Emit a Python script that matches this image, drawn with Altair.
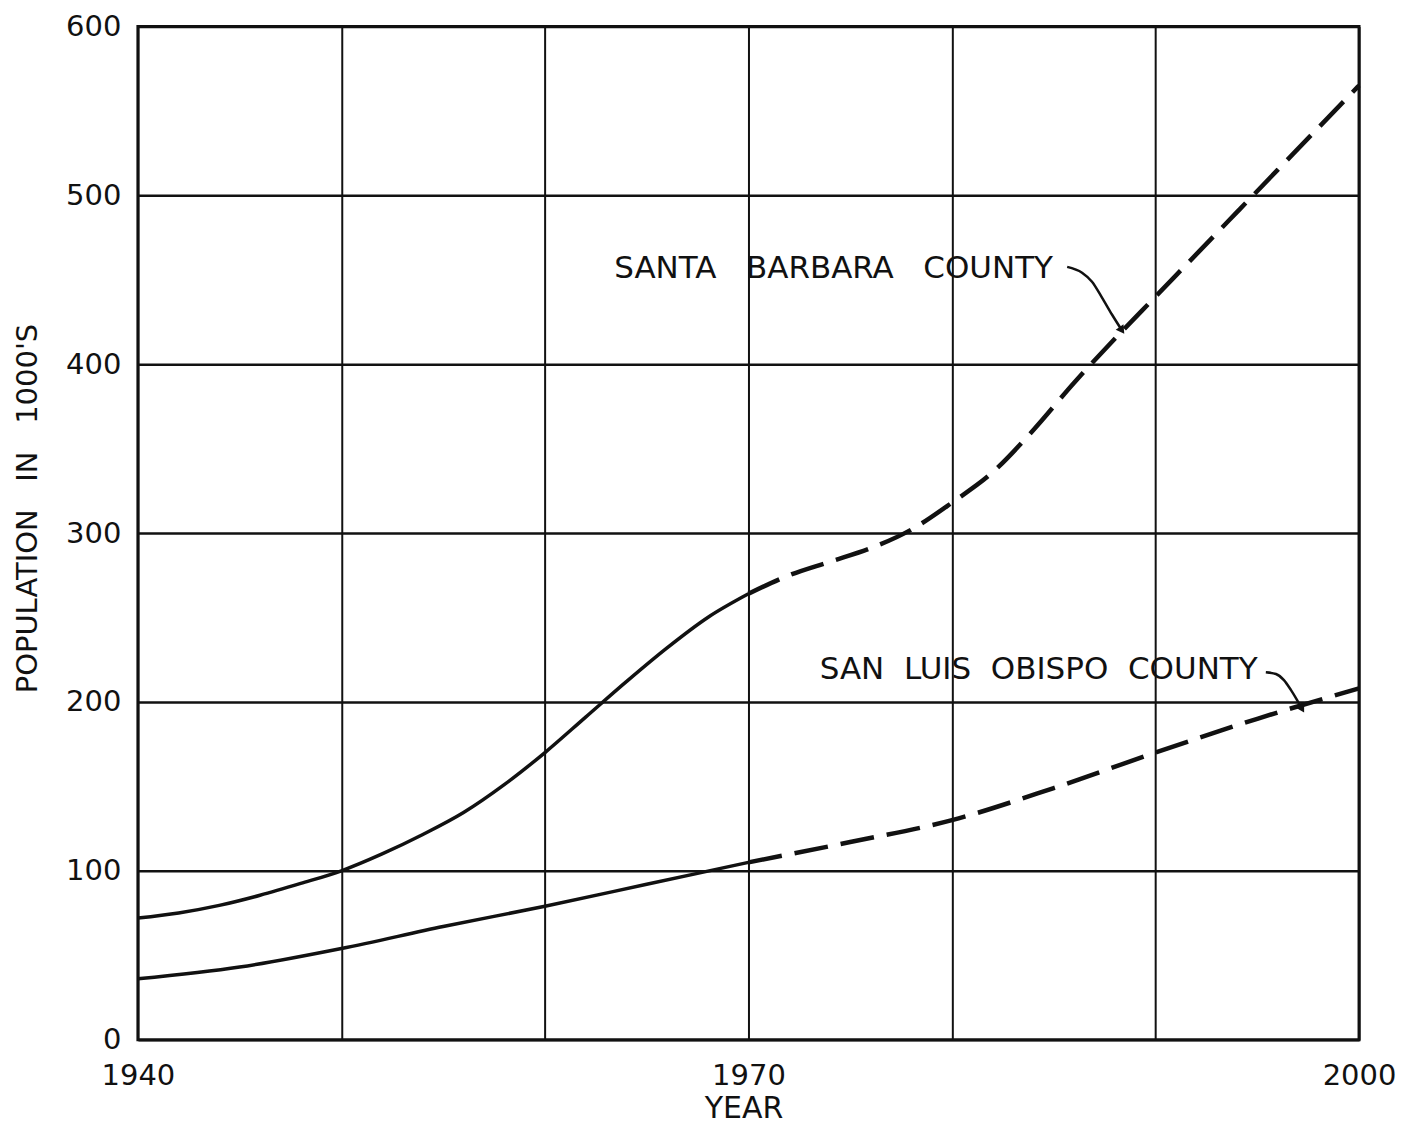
import altair as alt
import pandas as pd

# ---- data ----
SB_SOLID_YEARS = [1940, 1942, 1944, 1946, 1948, 1950, 1952, 1954, 1956, 1958, 1960, 1962, 1964, 1966, 1968, 1970]
SB_SOLID_VALS = [72, 75, 79.5, 85.5, 92.5, 100, 110, 121.5, 134.5, 151, 170, 191, 212, 232, 250, 264]
SB_DASH_YEARS = [1970, 1972, 1974, 1976, 1978, 1980, 1982, 1984, 1986, 1988, 1990, 1992, 1994, 1996, 1998, 2000]
SB_DASH_VALS = [264, 275, 283, 291, 302, 318, 336, 361, 389, 415, 440, 465, 490, 515, 540, 565]

SLO_SOLID_YEARS = [1940, 1945, 1950, 1955, 1960, 1965, 1970]
SLO_SOLID_VALS = [36, 43, 54, 67, 79, 92, 105]
SLO_DASH_YEARS = [1970, 1975, 1980, 1985, 1990, 1995, 2000]
SLO_DASH_VALS = [105, 117, 130, 149, 170, 190, 208]

X_TICKS = [1940, 1950, 1960, 1970, 1980, 1990, 2000]
X_LABELED = [1940, 1970, 2000]
Y_TICKS = [0, 100, 200, 300, 400, 500, 600]

NB = "\u00a0"
LABEL_TEXTS = ["SANTA" + NB * 3 + "BARBARA" + NB * 3 + "COUNTY",
               "SAN" + NB * 2 + "LUIS" + NB * 2 + "OBISPO" + NB * 2 + "COUNTY"]
LABEL_YEARS = [1963.4, 1973.5]
LABEL_VALS = [456.5, 218.8]

SB_ARROW_YEARS = [1985.66, 1986.39, 1986.88, 1987.37, 1987.86, 1988.35]
SB_ARROW_VALS = [457.6, 454.1, 448.8, 439.4, 429.4, 420.0]
SLO_ARROW_YEARS = [1995.42, 1995.92, 1996.31, 1996.65, 1996.95, 1997.20]
SLO_ARROW_VALS = [217.6, 216.5, 212.9, 207.1, 201.2, 195.9]
ARROW_HEAD_YEARS = [1988.35, 1997.20]
ARROW_HEAD_VALS = [420.0, 195.9]
ARROW_HEAD_ANGLES = [145, 150]

FONT = "DejaVu Sans"
INK = "#111111"

solid = pd.concat([
    pd.DataFrame({"year": SB_SOLID_YEARS, "value": SB_SOLID_VALS, "series": "SB"}),
    pd.DataFrame({"year": SLO_SOLID_YEARS, "value": SLO_SOLID_VALS, "series": "SLO"}),
])
dashed = pd.concat([
    pd.DataFrame({"year": SB_DASH_YEARS, "value": SB_DASH_VALS, "series": "SB"}),
    pd.DataFrame({"year": SLO_DASH_YEARS, "value": SLO_DASH_VALS, "series": "SLO"}),
])
arrows = pd.concat([
    pd.DataFrame({"year": SB_ARROW_YEARS, "value": SB_ARROW_VALS, "series": "SB"}),
    pd.DataFrame({"year": SLO_ARROW_YEARS, "value": SLO_ARROW_VALS, "series": "SLO"}),
])
heads = pd.DataFrame({"year": ARROW_HEAD_YEARS, "value": ARROW_HEAD_VALS, "angle": ARROW_HEAD_ANGLES})
labels = pd.DataFrame({"year": LABEL_YEARS, "value": LABEL_VALS, "text": LABEL_TEXTS})

label_list = ",".join(str(v) for v in X_LABELED)
x_enc = alt.X(
    "year:Q",
    scale=alt.Scale(domain=[1940, 2000], nice=False, zero=False),
    axis=alt.Axis(
        values=X_TICKS, format="d",
        labelExpr=f"indexof([{label_list}], datum.value) >= 0 ? datum.label : ''",
        grid=True, gridColor=INK, gridWidth=2, gridOpacity=1,
        ticks=False, domain=False,
        labelFont=FONT, labelFontSize=29, labelColor=INK, labelPadding=22,
        labelFlush=False,
        title="YEAR", titleFont=FONT, titleFontSize=30, titleFontWeight="normal",
        titleColor=INK, titleX=606, titleY=69, titleBaseline="middle", titleAlign="center",
    ),
)
y_enc = alt.Y(
    "value:Q",
    scale=alt.Scale(domain=[0, 600], nice=False),
    axis=alt.Axis(
        values=Y_TICKS, grid=True, gridColor=INK, gridWidth=2.5, gridOpacity=1,
        ticks=False, domain=False,
        labelFont=FONT, labelFontSize=29, labelColor=INK, labelPadding=17,
        labelFlush=False,
        title="POPULATION" + NB * 3 + "IN" + NB * 3 + "1000'S",
        titleFont=FONT, titleFontSize=29, titleFontWeight="normal", titleColor=INK,
        titleAngle=-90, titleX=-110, titleY=482, titleBaseline="middle", titleAlign="center",
    ),
)

solid_lines = alt.Chart(solid).mark_line(
    color=INK, strokeWidth=3.5, interpolate="monotone"
).encode(x=x_enc, y=y_enc, detail="series:N")

dashed_lines = alt.Chart(dashed).mark_line(
    color=INK, strokeWidth=4.5, interpolate="monotone", strokeDash=[34, 13]
).encode(x="year:Q", y="value:Q", detail="series:N")

arrow_lines = alt.Chart(arrows).mark_line(
    color=INK, strokeWidth=2.5, interpolate="monotone"
).encode(x="year:Q", y="value:Q", detail="series:N")

arrow_heads = alt.Chart(heads).mark_point(
    shape="triangle-up", filled=True, color=INK, size=90, opacity=1
).encode(x="year:Q", y="value:Q", angle=alt.Angle("angle:Q", scale=None))

text = alt.Chart(labels).mark_text(
    align="left", baseline="middle", font=FONT, fontSize=31, color=INK
).encode(x="year:Q", y="value:Q", text="text:N")

chart = alt.layer(solid_lines, dashed_lines, arrow_lines, arrow_heads, text).properties(
    width=1222, height=1014,
    autosize=alt.AutoSizeParams(type="none"),
    padding={"left": 130, "top": 18, "right": 50, "bottom": 84},
    background="white",
).configure_view(stroke=INK, strokeWidth=3)

chart.save("out.html", embed_options={"renderer": "svg", "actions": False})
